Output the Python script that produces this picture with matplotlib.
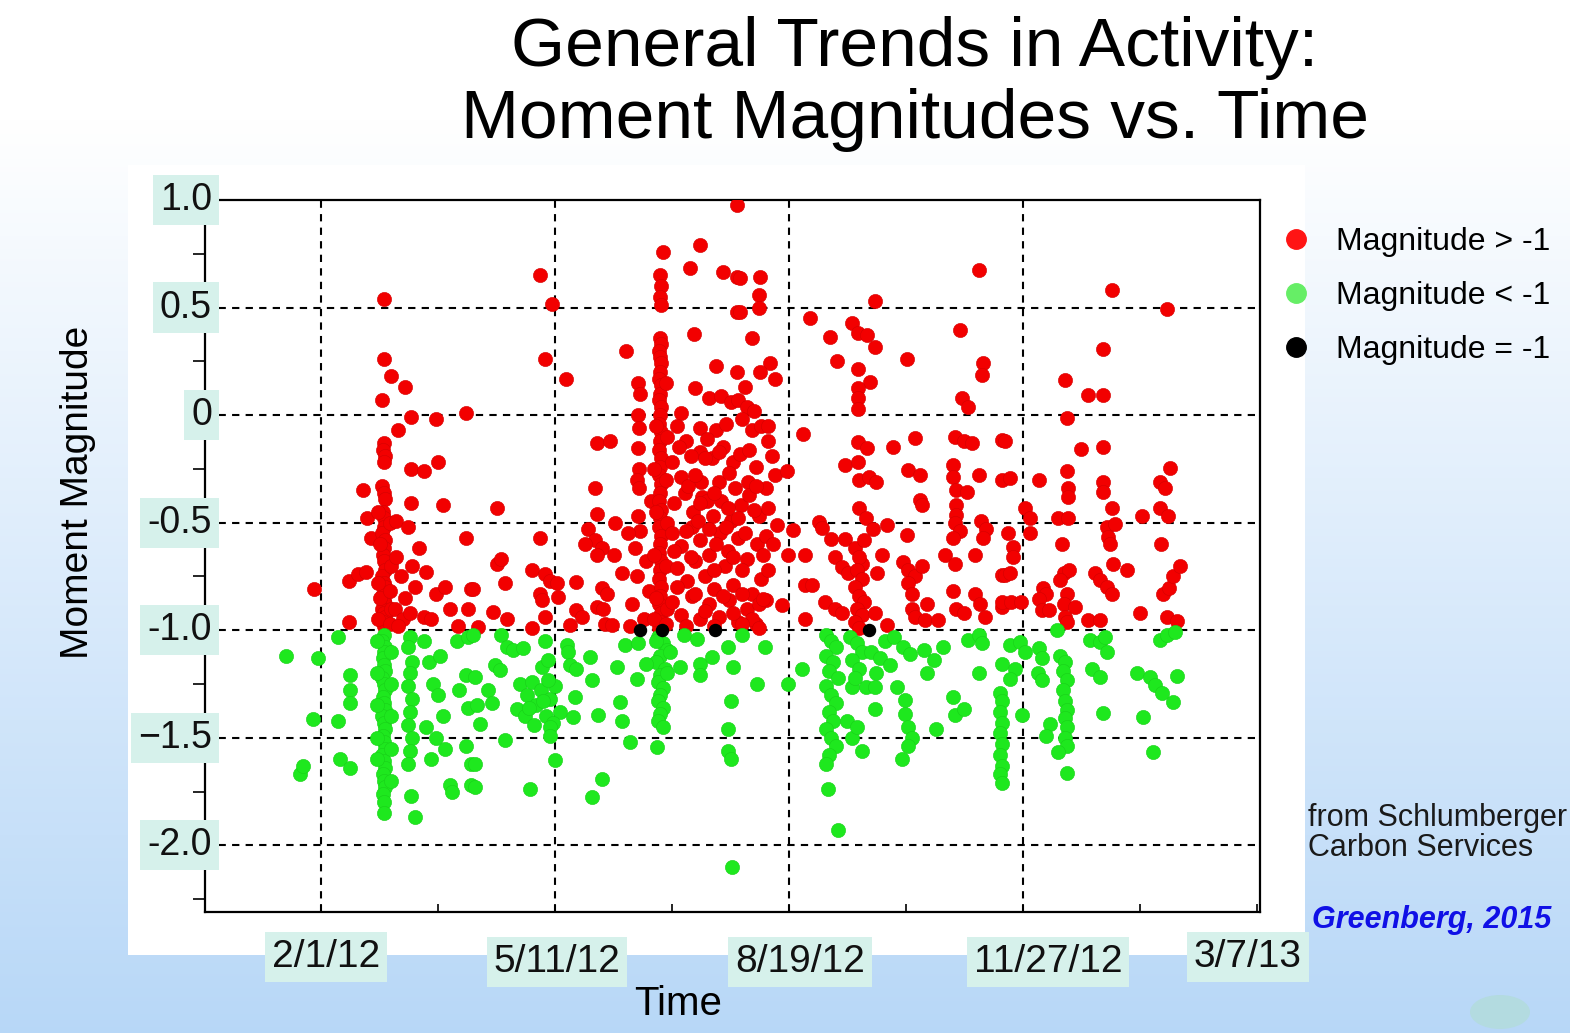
import matplotlib
matplotlib.use('Agg')
import matplotlib.pyplot as plt
import numpy as np
from matplotlib.lines import Line2D
from matplotlib.patches import Rectangle, Ellipse
import matplotlib.transforms as mtrans

plt.rcParams['font.family'] = ['Liberation Sans', 'DejaVu Sans']

# ---------------- data (x = days since 2/1/12, y = moment magnitude) ----------------
red_a = [
    (-3, -0.81), (12, -0.77), (16, -0.74), (19, -0.73), (12, -0.96), (18, -0.35), (19.5, -0.48), (21.5, -0.57),
    (27, 0.54), (27, 0.26), (26, 0.07), (27, -0.13), (26.5, -0.16), (27.5, -0.19), (27, -0.22), (26, -0.33),
    (27, -0.36), (27.5, -0.39), (26.5, -0.45), (27, -0.48), (27, -0.52), (26, -0.55), (27.5, -0.58), (27, -0.62),
    (26.5, -0.65), (27, -0.68), (27.5, -0.72), (26, -0.75), (27, -0.78), (27.5, -0.80), (26.5, -0.83), (27, -0.86),
    (27.5, -0.88), (26, -0.90), (27, -0.92), (27.5, -0.94), (26.5, -0.96), (27, -0.98),
    (24.5, -0.45), (25, -0.60), (24.5, -0.78), (25, -0.85), (24.5, -0.95),
    (29.5, -0.50), (30, -0.70), (29.5, -0.82), (30, -0.90), (29.5, -0.97),
    (30, 0.18), (36, 0.13), (33, -0.07), (38.5, -0.01), (49, -0.02), (62, 0.01), (38.5, -0.25), (44, -0.26),
    (50, -0.22), (38.5, -0.41), (52, -0.42), (32, -0.49), (37, -0.52), (62, -0.57),
    (45, -0.73), (49, -0.83), (53, -0.80), (64, -0.81), (63, -0.90), (44, -0.94), (58.5, -0.98),
    (32, -0.66), (34, -0.75), (36, -0.85), (31.5, -0.90), (35, -0.95), (39, -0.70), (40, -0.80), (33, -0.98),
    (38, -0.92), (42, -0.62), (47, -0.95), (55, -0.90),
]
red_b = [
    (93.6, 0.65), (98.6, 0.515), (95.7, 0.26), (104.7, 0.17), (130.3, 0.30), (118, -0.13), (123.5, -0.12),
    (117, -0.34), (75, -0.43), (118, -0.46), (125.6, -0.50), (93.6, -0.57), (114, -0.53), (117, -0.58),
    (120, -0.62), (113, -0.60),
    (75, -0.69), (77, -0.67), (90, -0.72), (78.6, -0.78), (95.7, -0.74), (97.9, -0.77), (100.7, -0.78),
    (109, -0.775), (117.8, -0.65), (125, -0.65), (93.6, -0.83), (94.3, -0.86), (101.4, -0.845), (65, -0.81),
    (73.6, -0.915), (79.4, -0.946), (67.2, -0.985), (90, -0.99), (95.7, -0.94), (106.4, -0.977), (109, -0.907),
    (111.4, -0.94), (117.8, -0.89), (120.6, -0.90), (121.4, -0.97), (124.2, -0.977), (120, -0.806), (122, -0.83),
    (128.5, -0.736),
    (135.6, 0.15), (136.3, 0.10), (135.5, 0.0), (136, -0.06), (135.5, -0.155), (136, -0.25), (135, -0.30),
    (136, -0.34), (135.5, -0.47), (136.5, -0.54), (134, -0.62), (135, -0.75), (139, -0.68), (133, -0.88),
    (138, -0.95), (140, -0.82), (131, -0.55), (141, -0.40), (132, -0.98),
]
red_col145 = [
    (146.3, 0.757), (145, 0.65), (145.5, 0.60), (145, 0.55), (145.5, 0.51), (145, 0.36), (145.5, 0.33),
    (144.5, 0.30), (145, 0.27), (145.5, 0.24), (145, 0.20), (144.5, 0.17), (145.5, 0.14), (145, 0.10),
    (144.5, 0.07), (145.5, 0.04), (145, 0.00), (144.5, -0.04), (145.5, -0.08), (145, -0.12), (144.5, -0.16),
    (145.5, -0.20), (145, -0.24), (144.5, -0.28), (145.5, -0.32), (145, -0.36), (144.5, -0.40), (145.5, -0.44),
    (145, -0.48), (144.5, -0.52), (145.5, -0.56), (145, -0.60), (144.5, -0.64), (145.5, -0.68), (145, -0.72),
    (144.5, -0.76), (145.5, -0.80), (145, -0.84), (144.5, -0.88), (145.5, -0.92), (145, -0.96), (144.5, -0.99),
    (143, -0.05), (142.5, -0.25), (143, -0.45), (142.5, -0.65), (143, -0.85), (142.5, -0.95),
    (147.5, 0.15), (148, -0.10), (147.5, -0.30), (148, -0.50), (147.5, -0.70), (148, -0.90), (147.5, -0.97),
]
red_blob = [
    (154, 0.01), (160, 0.126), (162, 0.79), (157.7, 0.685), (172, 0.667), (177.6, 0.977), (177.7, 0.64),
    (177.7, 0.48), (159.4, 0.375), (169, 0.23), (177.7, 0.20), (179, 0.636), (187.6, 0.64), (187, 0.558),
    (187, 0.496), (179, 0.478), (184, 0.357), (191.9, 0.24), (187.6, 0.20), (194, 0.17),
    (166, 0.08), (171, 0.09), (175, 0.06), (178, 0.07), (162, -0.06), (169, -0.07), (162, -0.17), (167, -0.20),
    (172, -0.15), (176, -0.22), (181, 0.13), (182, 0.04), (180, -0.02), (152, -0.05), (156, -0.12), (165, -0.11),
    (173, -0.04), (184, -0.07), (188, -0.05), (191, -0.05), (191, -0.12), (192.6, -0.19),
    (150, -0.22), (154, -0.29), (158, -0.19), (162.5, -0.31), (170, -0.31), (174.5, -0.27), (179, -0.18),
    (182.5, -0.31), (186, -0.24), (190, -0.34), (194, -0.28),
    (151, -0.41), (155.5, -0.36), (159, -0.45), (163, -0.38), (167.5, -0.47), (171, -0.40), (175, -0.49),
    (179.5, -0.42), (183, -0.37), (187, -0.47), (191, -0.43), (195, -0.51),
    (150, -0.55), (154, -0.61), (158.5, -0.52), (162, -0.58), (166, -0.65), (170.5, -0.55), (174, -0.63),
    (178, -0.57), (182, -0.67), (186.5, -0.60), (190, -0.56),
    (152, -0.71), (156.5, -0.77), (160, -0.68), (164, -0.75), (168, -0.81), (172.5, -0.70), (176, -0.79),
    (180, -0.72), (184, -0.83), (188, -0.76),
    (150, -0.87), (154, -0.93), (158.5, -0.84), (162, -0.95), (166, -0.88), (170, -0.94), (174.5, -0.86),
    (178, -0.96), (182, -0.90), (186, -0.97),
    (153, -0.15), (157, -0.33), (161, -0.49), (165, -0.40), (169, -0.60), (173, -0.52), (177, -0.34),
    (181, -0.55), (185, -0.44), (189, -0.65), (156, -0.54), (160, -0.83), (164, -0.91), (168, -0.72),
    (172, -0.84), (176, -0.92), (180, -0.83), (184, -0.95), (176, -0.66), (160, -0.28), (164, -0.20),
    (168, -0.36), (152, -0.80), (156, -0.98), (168, -0.98), (180, -0.97), (187, -0.88), (191, -0.72),
    (193, -0.60), (183, -0.16), (185, 0.02), (158, -0.66), (170, -0.17), (174, -0.43), (151, -0.63),
    (162, -0.41), (178, -0.48), (186, -0.33), (190, -0.86), (166, -0.53),
    (187, -0.99), (189, -0.853), (197, -0.884), (199.7, -0.65), (206.8, -0.65), (206.8, -0.79),
    (209.7, -0.79), (206.8, -0.946),
]
red_c = [
    (209, 0.453), (226.8, 0.426), (229.7, 0.38), (233.2, 0.372), (236.8, 0.318), (236.8, 0.53), (217.5, 0.364),
    (273, 0.395), (281, 0.674), (220.4, 0.251), (250.3, 0.26), (229.7, 0.214), (234.6, 0.155), (229.7, 0.126),
    (229.7, 0.08), (229.7, 0.03), (283, 0.24), (282.3, 0.186), (273.8, 0.078), (276.6, 0.039),
    (206, -0.09), (229.7, -0.124), (233.2, -0.155), (244.6, -0.147), (253.8, -0.108), (271, -0.10), (275, -0.12),
    (278, -0.13), (291, -0.116), (199, -0.26), (224, -0.23), (229.7, -0.217), (230, -0.30), (234, -0.29),
    (237, -0.31), (251, -0.256), (256, -0.28), (270, -0.233), (270, -0.287), (281, -0.28), (291, -0.30),
    (256, -0.395), (256.7, -0.42), (271.5, -0.35), (276, -0.357), (271.5, -0.42), (271.5, -0.465), (230, -0.43),
    (233, -0.48), (236, -0.53), (213, -0.496), (213.9, -0.527), (241.7, -0.512), (250.3, -0.558),
    (201.8, -0.535), (218, -0.574), (224, -0.574), (271, -0.50), (273, -0.54), (270, -0.57), (282, -0.49),
    (284, -0.53), (283, -0.57),
    (219.7, -0.66), (222.5, -0.705), (225.4, -0.736), (231, -0.69), (215.4, -0.868), (219.7, -0.90),
    (222.5, -0.922),
    (228, -0.62), (230, -0.66), (229, -0.72), (231, -0.76), (228, -0.80), (230, -0.84), (232, -0.87),
    (229, -0.90), (231, -0.93), (228, -0.96), (230, -0.99), (232, -0.58),
    (236.8, -0.922), (241.7, -0.977), (239.6, -0.65), (237.5, -0.736), (248.8, -0.682), (251, -0.72),
    (253.8, -0.75), (251, -0.78), (252.4, -0.83), (252.4, -0.90), (253.8, -0.94), (258, -0.953),
    (263.8, -0.953), (258.8, -0.876), (256.7, -0.70), (266.7, -0.65), (271, -0.69), (270, -0.82),
    (271.5, -0.90), (275, -0.922), (279.5, -0.83), (281.6, -0.876), (283.8, -0.94), (279.5, -0.65),
    (291, -0.744), (291, -0.89),
]
red_d = [
    (338, 0.58), (361.4, 0.493), (334, 0.307), (318, 0.163), (328, 0.093), (334, 0.093), (318.7, -0.012),
    (292.3, -0.12), (325, -0.158), (334, -0.147), (318.7, -0.26), (362.8, -0.245), (294.4, -0.294),
    (307, -0.30), (319.4, -0.34), (319.4, -0.38), (334, -0.31), (334, -0.357), (358.5, -0.31), (360.7, -0.34),
    (300.9, -0.434), (303, -0.48), (315, -0.478), (319.4, -0.478), (338, -0.434), (350.7, -0.468),
    (358.5, -0.434), (362, -0.468), (293.7, -0.55), (303, -0.546), (335.8, -0.52), (339.3, -0.504),
    (336.4, -0.566), (337.2, -0.597), (316.5, -0.597), (359, -0.597), (295.9, -0.612),
    (295.9, -0.66), (292.3, -0.744), (294.4, -0.736), (291, -0.87), (295, -0.87), (299, -0.87),
    (308.7, -0.806), (310, -0.83), (307, -0.853), (308, -0.907), (311, -0.907), (317.5, -0.736),
    (319.7, -0.72), (316, -0.767), (318.7, -0.83), (317.5, -0.876), (322.2, -0.89), (318, -0.94),
    (318.7, -0.96), (328, -0.953), (333, -0.953), (330.8, -0.736), (333, -0.767), (335.8, -0.80),
    (338, -0.83), (338.6, -0.69), (344.3, -0.72), (350, -0.922), (360, -0.83), (362.2, -0.806),
    (364.3, -0.75), (367, -0.70), (361.4, -0.94), (365.7, -0.957),
]

green_a = [
    (-15, -1.12), (-1.3, -1.13), (7.3, -1.03), (-3.4, -1.415), (7.3, -1.42), (-9, -1.67), (-7.7, -1.63),
    (8, -1.60), (12.4, -1.64), (12.4, -1.21), (12.4, -1.28), (12.4, -1.34),
    (27, -1.02), (26, -1.05), (27.5, -1.08), (27, -1.10), (26.5, -1.13), (27, -1.16), (27.5, -1.19),
    (26, -1.22), (27, -1.25), (27.5, -1.28), (26.5, -1.31), (27, -1.34), (27.5, -1.37), (26, -1.40),
    (27, -1.43), (27.5, -1.46), (26.5, -1.49), (27, -1.52), (27.5, -1.55), (26, -1.58), (27, -1.61),
    (27.5, -1.64), (26.5, -1.67), (27, -1.70), (27.5, -1.73), (26.5, -1.76), (27, -1.80), (27, -1.85),
    (24, -1.05), (24, -1.20), (24, -1.35), (24, -1.50), (24, -1.60),
    (30, -1.10), (30, -1.25), (30, -1.40), (30, -1.55), (30, -1.70),
    (38, -1.03), (37, -1.08), (39, -1.15), (38, -1.20), (37, -1.26), (39, -1.32), (38, -1.38), (37, -1.44),
    (39, -1.50), (38, -1.56), (37, -1.62),
    (44, -1.05), (46, -1.15), (48, -1.25), (50, -1.30), (52, -1.40), (45, -1.45), (49, -1.50), (53, -1.55),
    (47, -1.60), (51, -1.12),
    (38.5, -1.77), (40, -1.87), (55, -1.72), (56, -1.75), (62, -1.21), (59, -1.28), (63, -1.36), (64, -1.62),
    (64, -1.72), (62, -1.54), (58, -1.05), (63, -1.03),
]
green_b = [
    (65, -1.02), (77, -1.02), (79.4, -1.08), (82.2, -1.09), (86.5, -1.085), (95.7, -1.05), (105, -1.07),
    (105.7, -1.10), (74.4, -1.16), (76.5, -1.186), (115, -1.124), (94.3, -1.17), (97, -1.14), (106.4, -1.163),
    (109, -1.18), (126.4, -1.17), (115.7, -1.23), (135, -1.225), (65.8, -1.217), (71.5, -1.28), (73, -1.34),
    (83.6, -1.364),
    (85, -1.25), (88, -1.30), (90, -1.24), (92, -1.35), (94, -1.28), (96, -1.40), (98, -1.32), (100, -1.26),
    (102, -1.38), (87, -1.40), (91, -1.44), (95, -1.33), (99, -1.43), (89, -1.36), (97, -1.23),
    (108.5, -1.31), (107.8, -1.403), (118.5, -1.395), (127.8, -1.334), (128.5, -1.42), (66.5, -1.35),
    (68, -1.434), (78.6, -1.51), (97.9, -1.45), (97.9, -1.49), (132, -1.52), (143.5, -1.543), (65.8, -1.62),
    (100, -1.605), (65.8, -1.73), (89.3, -1.736), (120, -1.69), (115.7, -1.775),
    (144, -1.03), (146, -1.06), (148, -1.09), (145, -1.12), (143, -1.15), (147, -1.18), (145, -1.21),
    (144, -1.24), (146, -1.27), (145, -1.30), (144, -1.33), (146, -1.36), (145, -1.39), (144, -1.42),
    (146, -1.45), (143, -1.05), (148, -1.20), (149, -1.10),
    (130, -1.07), (135.5, -1.06), (139, -1.155), (153.4, -1.17), (162, -1.155), (162, -1.21), (167, -1.124),
    (155, -1.02), (160.5, -1.04), (174, -1.08), (176, -1.17), (175, -1.33), (174, -1.457), (174, -1.56),
    (175, -1.60), (175.5, -2.10),
]
green_c = [
    (179.8, -1.02), (189.7, -1.08), (205.4, -1.18), (186.2, -1.25), (199.7, -1.25),
    (216, -1.02), (218, -1.05), (220, -1.08), (216, -1.12), (219, -1.15), (217, -1.19), (221, -1.22),
    (216, -1.26), (218, -1.30), (220, -1.34), (217, -1.38), (219, -1.42), (216, -1.46), (218, -1.50),
    (220, -1.54), (217, -1.58), (216, -1.62), (216.8, -1.736), (221, -1.93),
    (226, -1.03), (229, -1.06), (231, -1.10), (227, -1.14), (230, -1.18), (226.8, -1.264), (233, -1.264),
    (236.8, -1.264), (236.8, -1.364), (226.8, -1.50), (231, -1.56), (228, -1.22), (225, -1.42), (229, -1.45),
    (235, -1.10), (239, -1.13), (243, -1.16), (237, -1.20), (241, -1.05),
    (245, -1.03), (248.8, -1.08), (251.6, -1.11), (257.5, -1.09), (261.8, -1.14), (266, -1.08), (258.8, -1.20),
    (246, -1.264), (249.6, -1.326), (249.6, -1.39), (251, -1.45), (252.4, -1.50), (251, -1.54), (248.2, -1.60),
    (263, -1.457), (270, -1.31), (271, -1.395), (275, -1.364), (276.6, -1.047), (281, -1.02), (282.3, -1.06),
    (281, -1.20),
    (290, -1.29), (291, -1.33), (290, -1.38), (291, -1.43), (290, -1.48), (291, -1.53), (290, -1.58),
    (291, -1.63), (290, -1.67), (291, -1.71), (291, -1.155),
]
green_d = [
    (314.4, -1.0), (294.4, -1.07), (298.7, -1.054), (300.9, -1.10), (307, -1.085), (308, -1.13),
    (306.5, -1.20), (308, -1.23), (296.6, -1.178), (294.4, -1.225),
    (316, -1.12), (318, -1.15), (317, -1.19), (319, -1.23), (317, -1.28), (318, -1.33), (319, -1.37),
    (318, -1.41), (319, -1.45), (318, -1.50), (319, -1.54),
    (315, -1.566), (318.7, -1.664), (311.5, -1.434), (310, -1.49), (299.4, -1.395),
    (328.6, -1.047), (333, -1.054), (335.8, -1.10), (335, -1.03), (329.4, -1.178), (333, -1.217),
    (334, -1.387), (348.6, -1.20), (354.3, -1.217), (356.4, -1.256), (359.3, -1.294), (364.3, -1.333),
    (365.7, -1.214), (351.4, -1.403), (355.7, -1.566), (358.5, -1.047), (361.4, -1.02), (365, -1.008),
]
black_pts = [(136.3, -1.0), (145.6, -1.0), (168.4, -1.0), (234.2, -1.0)]

legend_labels = ['Magnitude > -1', 'Magnitude < -1', 'Magnitude = -1']
ytick_vals = [1.0, 0.5, 0.0, -0.5, -1.0, -1.5, -2.0]
ytick_text = ['1.0', '0.5', '0', '-0.5', '-1.0', '\u22121.5', '-2.0']
xtick_vals = [0, 100, 200, 300, 400]
xtick_text = ['2/1/12', '5/11/12', '8/19/12', '11/27/12', '3/7/13']

# ---------------- figure ----------------
W, H = 1570, 1033
fig = plt.figure(figsize=(W / 100, H / 100), dpi=100)

# background (slide)
bg = fig.add_axes([0, 0, 1, 1], zorder=-10)
bg.set_xlim(0, W); bg.set_ylim(H, 0); bg.axis('off')
yy = np.linspace(0, H, 400)
g = np.clip((yy - 120) / (H - 120), 0, 1)[:, None, None]
top = np.array([1.0, 1.0, 1.0]); bot = np.array([0.72, 0.845, 0.97])
img = top * (1 - g) + bot * g
img = np.repeat(img, 2, axis=1)
bg.imshow(img, extent=[0, W, H, 0], aspect='auto', interpolation='bilinear')
bg.add_patch(Rectangle((128, 165), 1305 - 128, 955 - 165, facecolor='white', edgecolor='none'))
bg.add_patch(Ellipse((1500, 1012), 60, 34, facecolor='#b3dbe0', edgecolor='none'))

ax = fig.add_axes([205 / W, 1 - 912 / H, (1260 - 205) / W, (912 - 200) / H])
ax.set_facecolor('white')
ax.set_xlim(-49.6, 401.3)
ax.set_ylim(-2.31, 1.0)

dash = (0, (3.5, 3))
for v in xtick_vals[:-1]:
    ax.axvline(v, color='black', ls=dash, lw=1.5, zorder=1)
for v in ytick_vals[1:]:
    ax.axhline(v, color='black', ls=dash, lw=1.5, zorder=1)

red = red_a + red_b + red_col145 + red_blob + red_c + red_d
green = green_a + green_b + green_c + green_d
rx, ry = zip(*red); gx, gy = zip(*green); bx, by = zip(*black_pts)
ax.scatter(rx, ry, s=105, c='#f20000', edgecolors='#d40000', linewidths=0.4, zorder=3)
ax.scatter(gx, gy, s=105, c='#1ee81e', edgecolors='#18d018', linewidths=0.4, zorder=3)
ax.scatter(bx, by, s=75, c='black', zorder=4)

ax.set_xticks(xtick_vals)
ax.set_xticks([50, 150, 250, 350], minor=True)
ax.set_yticks(ytick_vals)
ax.set_yticks([0.75, 0.25, -0.25, -0.75, -1.25, -1.75, -2.25], minor=True)
ax.tick_params(axis='x', which='both', direction='in', length=6, width=1.2,
               labelbottom=False, top=False)
ax.tick_params(axis='y', which='major', direction='out', length=5, width=1.2, labelleft=False)
ax.tick_params(axis='y', which='minor', direction='out', length=9, width=1.2)
for sp in ax.spines.values():
    sp.set_linewidth(1.6)
    sp.set_color('black')

box = dict(facecolor='#d6f1eb', edgecolor='none', pad=5)
trans = mtrans.blended_transform_factory(fig.transFigure, ax.transData)
for v, t in zip(ytick_vals, ytick_text):
    ax.text(212 / W, v, t, transform=trans, ha='right', va='center', fontsize=27,
            bbox=box, zorder=10, clip_on=False, color='#111111')

xlab_pos = [(326, 957), (557, 962), (800, 962), (1048, 962), (1248, 957)]
for (px, py), t in zip(xlab_pos, xtick_text):
    fig.text(px / W, 1 - py / H, t, ha='center', va='center', fontsize=28, bbox=box, color='#111111')

fig.text(915 / W, 1 - 48 / H, 'General Trends in Activity:', ha='center', va='center', fontsize=50)
fig.text(915 / W, 1 - 120 / H, 'Moment Magnitudes vs. Time', ha='center', va='center', fontsize=50)
fig.text(78 / W, 1 - 492 / H, 'Moment Magnitude', rotation=90, ha='center', va='center', fontsize=28)
fig.text(678 / W, 1 - 1004 / H, 'Time', ha='center', va='center', fontsize=29)

fig.text(1308 / W, 1 - 818 / H, 'from Schlumberger', ha='left', va='center', fontsize=22, color='#1a1a1a')
fig.text(1308 / W, 1 - 848 / H, 'Carbon Services', ha='left', va='center', fontsize=22, color='#1a1a1a')
fig.text(1312 / W, 1 - 920 / H, 'Greenberg, 2015', ha='left', va='center', fontsize=22,
         fontweight='bold', fontstyle='italic', color='#1010e6')

handles = [Line2D([], [], ls='none', marker='o', markersize=14, color='#ff1414'),
           Line2D([], [], ls='none', marker='o', markersize=14, color='#66ee66'),
           Line2D([], [], ls='none', marker='o', markersize=14, color='black')]
ax.legend(handles, legend_labels, loc='center left', bbox_to_anchor=(1267 / W, 1 - 296 / H),
          bbox_transform=fig.transFigure, frameon=False, fontsize=23, handlelength=1.0,
          handletextpad=0.76, labelspacing=0.76, borderpad=0.4, borderaxespad=0)

fig.savefig('out.png', dpi=100)
